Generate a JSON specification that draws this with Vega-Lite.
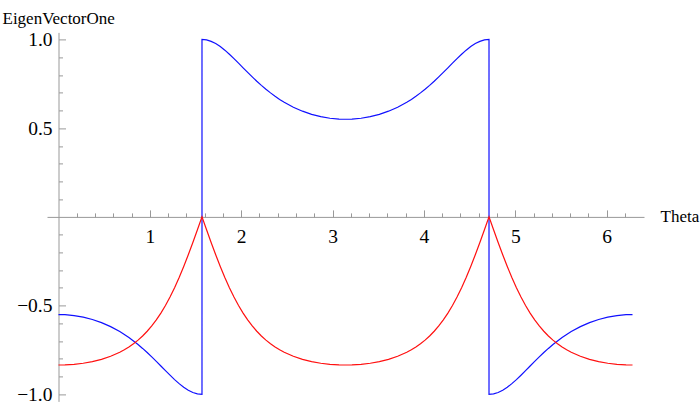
{
  "$schema": "https://vega.github.io/schema/vega-lite/v6.json",
  "width": 597,
  "height": 369,
  "autosize": {"type": "none"},
  "padding": {"left": 47, "top": 32.4, "right": 56, "bottom": 3.6},
  "background": "white",
  "config": {"view": {"stroke": null}, "font": "'Liberation Serif', 'Times New Roman', 'DejaVu Serif', serif"},
  "data": {"values": [
    {"theta": 0, "blue": -0.5504, "red": -0.8349},
    {"theta": 0.0708, "blue": -0.5512, "red": -0.8343},
    {"theta": 0.1708, "blue": -0.5562, "red": -0.8310},
    {"theta": 0.2708, "blue": -0.5651, "red": -0.8251},
    {"theta": 0.3708, "blue": -0.5782, "red": -0.8159},
    {"theta": 0.4708, "blue": -0.5959, "red": -0.8031},
    {"theta": 0.5708, "blue": -0.6185, "red": -0.7858},
    {"theta": 0.6708, "blue": -0.6464, "red": -0.7630},
    {"theta": 0.7208, "blue": -0.6624, "red": -0.7491},
    {"theta": 0.7708, "blue": -0.6800, "red": -0.7332},
    {"theta": 0.8208, "blue": -0.6990, "red": -0.7152},
    {"theta": 0.8708, "blue": -0.7194, "red": -0.6947},
    {"theta": 0.9208, "blue": -0.7414, "red": -0.6711},
    {"theta": 0.9708, "blue": -0.7646, "red": -0.6445},
    {"theta": 1.0208, "blue": -0.7890, "red": -0.6144},
    {"theta": 1.0708, "blue": -0.8145, "red": -0.5802},
    {"theta": 1.1208, "blue": -0.8404, "red": -0.5420},
    {"theta": 1.1708, "blue": -0.8665, "red": -0.4992},
    {"theta": 1.2208, "blue": -0.8923, "red": -0.4514},
    {"theta": 1.2708, "blue": -0.9170, "red": -0.3988},
    {"theta": 1.3208, "blue": -0.9399, "red": -0.3414},
    {"theta": 1.3708, "blue": -0.9602, "red": -0.2794},
    {"theta": 1.4208, "blue": -0.9770, "red": -0.2135},
    {"theta": 1.4708, "blue": -0.9896, "red": -0.1442},
    {"theta": 1.5208, "blue": -0.9974, "red": -0.0727},
    {"theta": 1.5708, "blue": -1, "red": 0},
    {"theta": 1.5708, "blue": 1, "red": 0},
    {"theta": 1.6208, "blue": 0.9974, "red": -0.0727},
    {"theta": 1.6708, "blue": 0.9896, "red": -0.1442},
    {"theta": 1.7208, "blue": 0.9770, "red": -0.2135},
    {"theta": 1.7708, "blue": 0.9602, "red": -0.2794},
    {"theta": 1.8208, "blue": 0.9399, "red": -0.3414},
    {"theta": 1.8708, "blue": 0.9170, "red": -0.3988},
    {"theta": 1.9208, "blue": 0.8923, "red": -0.4514},
    {"theta": 1.9708, "blue": 0.8665, "red": -0.4992},
    {"theta": 2.0208, "blue": 0.8404, "red": -0.5420},
    {"theta": 2.0708, "blue": 0.8145, "red": -0.5802},
    {"theta": 2.1208, "blue": 0.7890, "red": -0.6144},
    {"theta": 2.1708, "blue": 0.7646, "red": -0.6445},
    {"theta": 2.2208, "blue": 0.7414, "red": -0.6711},
    {"theta": 2.2708, "blue": 0.7194, "red": -0.6947},
    {"theta": 2.3208, "blue": 0.6990, "red": -0.7152},
    {"theta": 2.3708, "blue": 0.6800, "red": -0.7332},
    {"theta": 2.4208, "blue": 0.6624, "red": -0.7491},
    {"theta": 2.4708, "blue": 0.6464, "red": -0.7630},
    {"theta": 2.5708, "blue": 0.6185, "red": -0.7858},
    {"theta": 2.6708, "blue": 0.5959, "red": -0.8031},
    {"theta": 2.7708, "blue": 0.5782, "red": -0.8159},
    {"theta": 2.8708, "blue": 0.5651, "red": -0.8251},
    {"theta": 2.9708, "blue": 0.5562, "red": -0.8310},
    {"theta": 3.0708, "blue": 0.5512, "red": -0.8343},
    {"theta": 3.1416, "blue": 0.5504, "red": -0.8349},
    {"theta": 3.2124, "blue": 0.5512, "red": -0.8343},
    {"theta": 3.3124, "blue": 0.5562, "red": -0.8310},
    {"theta": 3.4124, "blue": 0.5651, "red": -0.8251},
    {"theta": 3.5124, "blue": 0.5782, "red": -0.8159},
    {"theta": 3.6124, "blue": 0.5959, "red": -0.8031},
    {"theta": 3.7124, "blue": 0.6185, "red": -0.7858},
    {"theta": 3.8124, "blue": 0.6464, "red": -0.7630},
    {"theta": 3.8624, "blue": 0.6624, "red": -0.7491},
    {"theta": 3.9124, "blue": 0.6800, "red": -0.7332},
    {"theta": 3.9624, "blue": 0.6990, "red": -0.7152},
    {"theta": 4.0124, "blue": 0.7194, "red": -0.6947},
    {"theta": 4.0624, "blue": 0.7414, "red": -0.6711},
    {"theta": 4.1124, "blue": 0.7646, "red": -0.6445},
    {"theta": 4.1624, "blue": 0.7890, "red": -0.6144},
    {"theta": 4.2124, "blue": 0.8145, "red": -0.5802},
    {"theta": 4.2624, "blue": 0.8404, "red": -0.5420},
    {"theta": 4.3124, "blue": 0.8665, "red": -0.4992},
    {"theta": 4.3624, "blue": 0.8923, "red": -0.4514},
    {"theta": 4.4124, "blue": 0.9170, "red": -0.3988},
    {"theta": 4.4624, "blue": 0.9399, "red": -0.3414},
    {"theta": 4.5124, "blue": 0.9602, "red": -0.2794},
    {"theta": 4.5624, "blue": 0.9770, "red": -0.2135},
    {"theta": 4.6124, "blue": 0.9896, "red": -0.1442},
    {"theta": 4.6624, "blue": 0.9974, "red": -0.0727},
    {"theta": 4.7124, "blue": 1, "red": 0},
    {"theta": 4.7124, "blue": -1, "red": 0},
    {"theta": 4.7624, "blue": -0.9974, "red": -0.0727},
    {"theta": 4.8124, "blue": -0.9896, "red": -0.1442},
    {"theta": 4.8624, "blue": -0.9770, "red": -0.2135},
    {"theta": 4.9124, "blue": -0.9602, "red": -0.2794},
    {"theta": 4.9624, "blue": -0.9399, "red": -0.3414},
    {"theta": 5.0124, "blue": -0.9170, "red": -0.3988},
    {"theta": 5.0624, "blue": -0.8923, "red": -0.4514},
    {"theta": 5.1124, "blue": -0.8665, "red": -0.4992},
    {"theta": 5.1624, "blue": -0.8404, "red": -0.5420},
    {"theta": 5.2124, "blue": -0.8145, "red": -0.5802},
    {"theta": 5.2624, "blue": -0.7890, "red": -0.6144},
    {"theta": 5.3124, "blue": -0.7646, "red": -0.6445},
    {"theta": 5.3624, "blue": -0.7414, "red": -0.6711},
    {"theta": 5.4124, "blue": -0.7194, "red": -0.6947},
    {"theta": 5.4624, "blue": -0.6990, "red": -0.7152},
    {"theta": 5.5124, "blue": -0.6800, "red": -0.7332},
    {"theta": 5.5624, "blue": -0.6624, "red": -0.7491},
    {"theta": 5.6124, "blue": -0.6464, "red": -0.7630},
    {"theta": 5.7124, "blue": -0.6185, "red": -0.7858},
    {"theta": 5.8124, "blue": -0.5959, "red": -0.8031},
    {"theta": 5.9124, "blue": -0.5782, "red": -0.8159},
    {"theta": 6.0124, "blue": -0.5651, "red": -0.8251},
    {"theta": 6.1124, "blue": -0.5562, "red": -0.8310},
    {"theta": 6.2124, "blue": -0.5512, "red": -0.8343},
    {"theta": 6.2832, "blue": -0.5504, "red": -0.8349}
  ]},
  "transform": [{"fold": ["blue", "red"], "as": ["series", "value"]}],
  "mark": {"type": "line", "strokeWidth": 1.2},
  "encoding": {
    "x": {
      "field": "theta",
      "type": "quantitative",
      "scale": {"domain": [-0.1257, 6.4089], "nice": false, "zero": false},
      "axis": {
        "orient": "bottom",
        "offset": -184.5,
        "values": [0.2, 0.4, 0.6, 0.8, 1, 1.2, 1.4, 1.6, 1.8, 2, 2.2, 2.4, 2.6, 2.8, 3, 3.2, 3.4, 3.6, 3.8, 4, 4.2, 4.4, 4.6, 4.8, 5, 5.2, 5.4, 5.6, 5.8, 6, 6.2],
        "format": ".0f",
        "labelExpr": "datum.value % 1 === 0 ? datum.label : ''",
        "grid": false,
        "domainColor": "#999999",
        "domainWidth": 1,
        "tickColor": "#999999",
        "tickWidth": 1,
        "tickSize": {"condition": {"test": "datum.value % 1 === 0", "value": -7}, "value": -4},
        "labelFont": "'Liberation Serif', 'Times New Roman', 'DejaVu Serif', serif",
        "labelFontSize": 19.5,
        "labelColor": "black",
        "labelPadding": 17.5,
        "labelFlush": false,
        "labelOverlap": false,
        "title": "Theta",
        "titleFont": "'Liberation Serif', 'Times New Roman', 'DejaVu Serif', serif",
        "titleFontSize": 17,
        "titleFontWeight": "normal",
        "titleColor": "black",
        "titleX": 613,
        "titleY": 0,
        "titleAnchor": "start",
        "titleAlign": "left",
        "titleBaseline": "middle",
        "titleAngle": 0
      }
    },
    "y": {
      "field": "value",
      "type": "quantitative",
      "scale": {"domain": [-1.04, 1.04], "nice": false, "zero": false},
      "axis": {
        "orient": "left",
        "offset": -11.5,
        "values": [-1, -0.9, -0.8, -0.7, -0.6, -0.5, -0.4, -0.3, -0.2, -0.1, 0.1, 0.2, 0.3, 0.4, 0.5, 0.6, 0.7, 0.8, 0.9, 1],
        "format": ".1f",
        "labelExpr": "(abs(datum.value) === 0.5 || abs(datum.value) === 1) ? datum.label : ''",
        "grid": false,
        "domainColor": "#999999",
        "domainWidth": 1,
        "tickColor": "#999999",
        "tickWidth": 1,
        "tickSize": {"condition": {"test": "abs(datum.value) === 0.5 || abs(datum.value) === 1", "value": -7}, "value": -4},
        "labelFont": "'Liberation Serif', 'Times New Roman', 'DejaVu Serif', serif",
        "labelFontSize": 19.5,
        "labelColor": "black",
        "labelPadding": 13.5,
        "labelFlush": false,
        "labelOverlap": false,
        "title": "EigenVectorOne",
        "titleFont": "'Liberation Serif', 'Times New Roman', 'DejaVu Serif', serif",
        "titleFontSize": 17,
        "titleFontWeight": "normal",
        "titleColor": "black",
        "titleX": -56.5,
        "titleY": -14.4,
        "titleAngle": 0,
        "titleAlign": "left",
        "titleBaseline": "middle"
      }
    },
    "color": {
      "field": "series",
      "type": "nominal",
      "scale": {"domain": ["blue", "red"], "range": ["#1010ff", "#ff1010"]},
      "legend": null
    },
    "order": {"value": null}
  }
}
